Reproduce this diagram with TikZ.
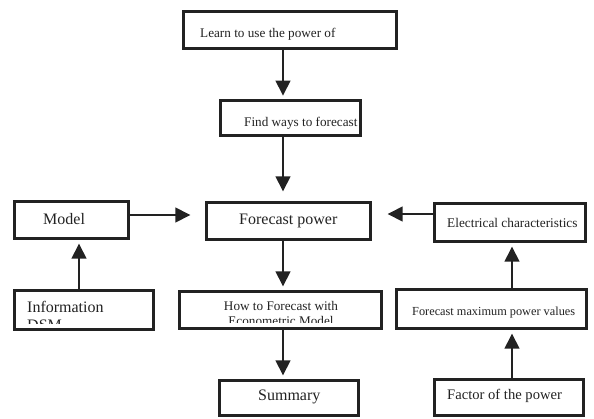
\documentclass[tikz,border=0pt]{standalone}
\usepackage{fontspec}
\setmainfont{Liberation Serif}
\usetikzlibrary{arrows.meta}
\definecolor{ink}{HTML}{222222}
\begin{document}
\begin{tikzpicture}[x=1pt,y=-1pt,
  box/.style={draw=ink,line width=3.4pt,fill=white,inner sep=0pt,rectangle},
  arr/.style={draw=ink,line width=1.5pt,-{Triangle[length=15pt,width=15pt]}},
  txt/.style={inner sep=0pt,text=ink},
  fa/.style={font=\fontsize{13.2}{15}\selectfont},
  fb/.style={font=\fontsize{16}{18}\selectfont}]
\useasboundingbox (0,0) rectangle (594,418);
\fill[white] (0,0) rectangle (594,418);
% spines
\coordinate (spine) at (283,0);
\coordinate (lspine) at (79,0);
\coordinate (rspine) at (512,0);
\coordinate (lrow) at (0,215);
\coordinate (rrow) at (0,214);
% boxes
\node[box,minimum width=212.5pt,minimum height=36.5pt] (learn) at (290,30) {};
\node[box,minimum width=139.5pt,minimum height=34.5pt] (find) at (290.5,118) {};
\node[box,minimum width=163.5pt,minimum height=36.5pt] (fc) at (288.5,221) {};
\node[box,minimum width=113.5pt,minimum height=36.5pt] (model) at (71.5,220) {};
\node[box,minimum width=138.5pt,minimum height=38.5pt] (info) at (84,310) {};
\node[box,minimum width=201.5pt,minimum height=36.5pt] (how) at (280.5,310) {};
\node[box,minimum width=138.5pt,minimum height=34.5pt] (summary) at (289,398) {};
\node[box,minimum width=150.5pt,minimum height=37.5pt] (elec) at (510,222.5) {};
\node[box,minimum width=189.5pt,minimum height=38.5pt] (fmax) at (491.5,309) {};
\node[box,minimum width=148.5pt,minimum height=36.5pt] (factor) at (509,397.5) {};
% arrows
\draw[arr,shorten >=3.5pt] (learn.south -| spine) -- (find.north -| spine);
\draw[arr,shorten >=9.75pt] (find.south -| spine) -- (fc.north -| spine);
\draw[arr,shorten >=3.75pt] (fc.south -| spine) -- (how.north -| spine);
\draw[arr,shorten >=3.75pt] (how.south -| spine) -- (summary.north -| spine);
\draw[arr,shorten >=3.75pt] (info.north -| lspine) -- (model.south -| lspine);
\draw[arr,shorten >=14.75pt] (model.east |- lrow) -- (fc.west |- lrow);
\draw[arr,shorten >=15.75pt] (elec.west |- rrow) -- (fc.east |- rrow);
\draw[arr,shorten >=3.75pt] (fmax.north -| rspine) -- (elec.south -| rspine);
\draw[arr,shorten >=3.75pt] (factor.north -| rspine) -- (fmax.south -| rspine);
% texts
\node[txt,fa,anchor=base west] (learnT) at (200,37) {Learn to use the power of};
\node[txt,fa,anchor=base west] (findT) at (244,126) {Find ways to forecast};
\node[txt,fb,anchor=base west] (fcT) at (239,224.3) {Forecast power};
\node[txt,fb,anchor=base west] (modelT) at (43,224.6) {Model};
\node[txt,fb,anchor=base west] (summaryT) at (258,400.6) {Summary};
\node[txt,font=\fontsize{13.3}{15}\selectfont,anchor=base west] (elecT) at (447,227.6) {Electrical characteristics};
\node[txt,font=\fontsize{12.3}{14}\selectfont,anchor=base west] (fmaxT) at (412,315) {Forecast maximum power values};
\node[txt,font=\fontsize{14.6}{17}\selectfont,anchor=base west] (factorT) at (447,399.7) {Factor of the power};
\begin{scope}
\clip (15,290) rectangle (153,323);
\node[txt,fb,anchor=base west] (infoT1) at (27,312.3) {Information};
\node[txt,fb,anchor=base west] (infoT2) at (27,330.5) {DSM};
\end{scope}
\begin{scope}
\clip (180,292) rectangle (381,322);
\node[txt,fa,anchor=base] (howT1) at (281,310.7) {How to Forecast with};
\node[txt,fa,anchor=base] (howT2) at (281,325.2) {Econometric Model};
\end{scope}
\end{tikzpicture}
\end{document}
